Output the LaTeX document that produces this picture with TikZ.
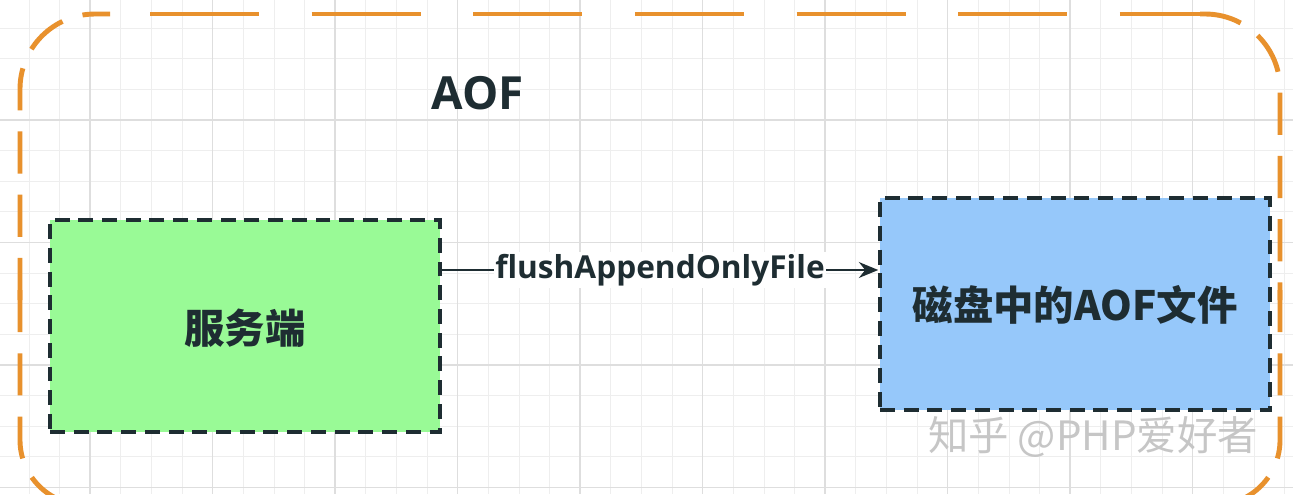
\documentclass[tikz,border=0pt]{standalone}
\usepackage{fontspec}
\setmainfont{Open Sans}
\newfontfamily\cjk{Noto Sans CJK SC}
\usetikzlibrary{arrows.meta}
\definecolor{gridc}{RGB}{238,238,238}
\definecolor{gridm}{RGB}{222,222,222}
\definecolor{orangec}{RGB}{232,145,45}
\definecolor{darkc}{RGB}{30,45,50}
\definecolor{greenc}{RGB}{153,250,150}
\definecolor{bluec}{RGB}{150,200,250}
\tikzset{
  dbox/.style={draw=darkc, line width=2pt, dash pattern=on 8.5pt off 5pt, minimum width=390*0.02cm, minimum height=212*0.02cm, inner sep=0pt},
  orng/.style={orangec, line width=2.8pt},
  cjkbold/.style={font=\cjk\bfseries\fontsize{23}{27}\selectfont, text=darkc},
}
\begin{document}
\begin{tikzpicture}[x=0.02cm,y=-0.02cm]
\useasboundingbox (0,0) rectangle (1293,494);
\fill[white] (0,0) rectangle (1293,494);
\foreach \i in {0,...,42} {\draw[gridc, line width=0.5pt] (29+30.625*\i,0) -- (29+30.625*\i,494);}
\foreach \i in {0,...,16} {\draw[gridc, line width=0.5pt] (0,28+30.625*\i) -- (1293,28+30.625*\i);}
\foreach \i in {0,...,10} {\draw[gridm, line width=0.6pt] (90+122.5*\i,0) -- (90+122.5*\i,494);}
\foreach \i in {0,...,3} {\draw[gridm, line width=0.6pt] (0,120+122.5*\i) -- (1293,120+122.5*\i);}
% outer container
\draw[orng, dash pattern=on 24pt off 12pt, rounded corners=75*0.02cm]
  (20,300) -- (20,14) -- (110,14);
\draw[orng, dash pattern=on 62pt off 30pt] (150,14) -- (1200,14);
\draw[orng, dash pattern=on 24pt off 12pt, rounded corners=75*0.02cm]
  (1200,14) -- (1280,14) -- (1280,300);
\draw[orng, dash pattern=on 24pt off 12pt, rounded corners=65*0.02cm]
  (20,290) -- (20,505) -- (120,505);
\draw[orng, dash pattern=on 24pt off 12pt, rounded corners=65*0.02cm]
  (1280,290) -- (1280,505) -- (1180,505);
\node[font=\bfseries\fontsize{26}{30}\selectfont, text=darkc] (aof) at (478,93) {AOF};
\node[dbox, fill=greenc] (srv) at (245,326) {};
\node[cjkbold] (srvt) at (245,328) {服务端};
\node[dbox, fill=bluec] (disk) at (1075,304) {};
\node[cjkbold] (diskt) at (1075,305) {磁盘中的AOF文件};
\draw[darkc, line width=1.4pt, -{Stealth[length=11pt,width=9pt]}] (srv.east |- 0,270) -- node[fill=white, inner sep=1pt, font=\bfseries\fontsize{18}{21}\selectfont, text=darkc] (lab) {flushAppendOnlyFile} (disk.west |- 0,270);
\node[font=\cjk\fontsize{23}{27}\selectfont, text=gray!45] (wm) at (1093,437) {知乎 @PHP爱好者};
\end{tikzpicture}
\end{document}
